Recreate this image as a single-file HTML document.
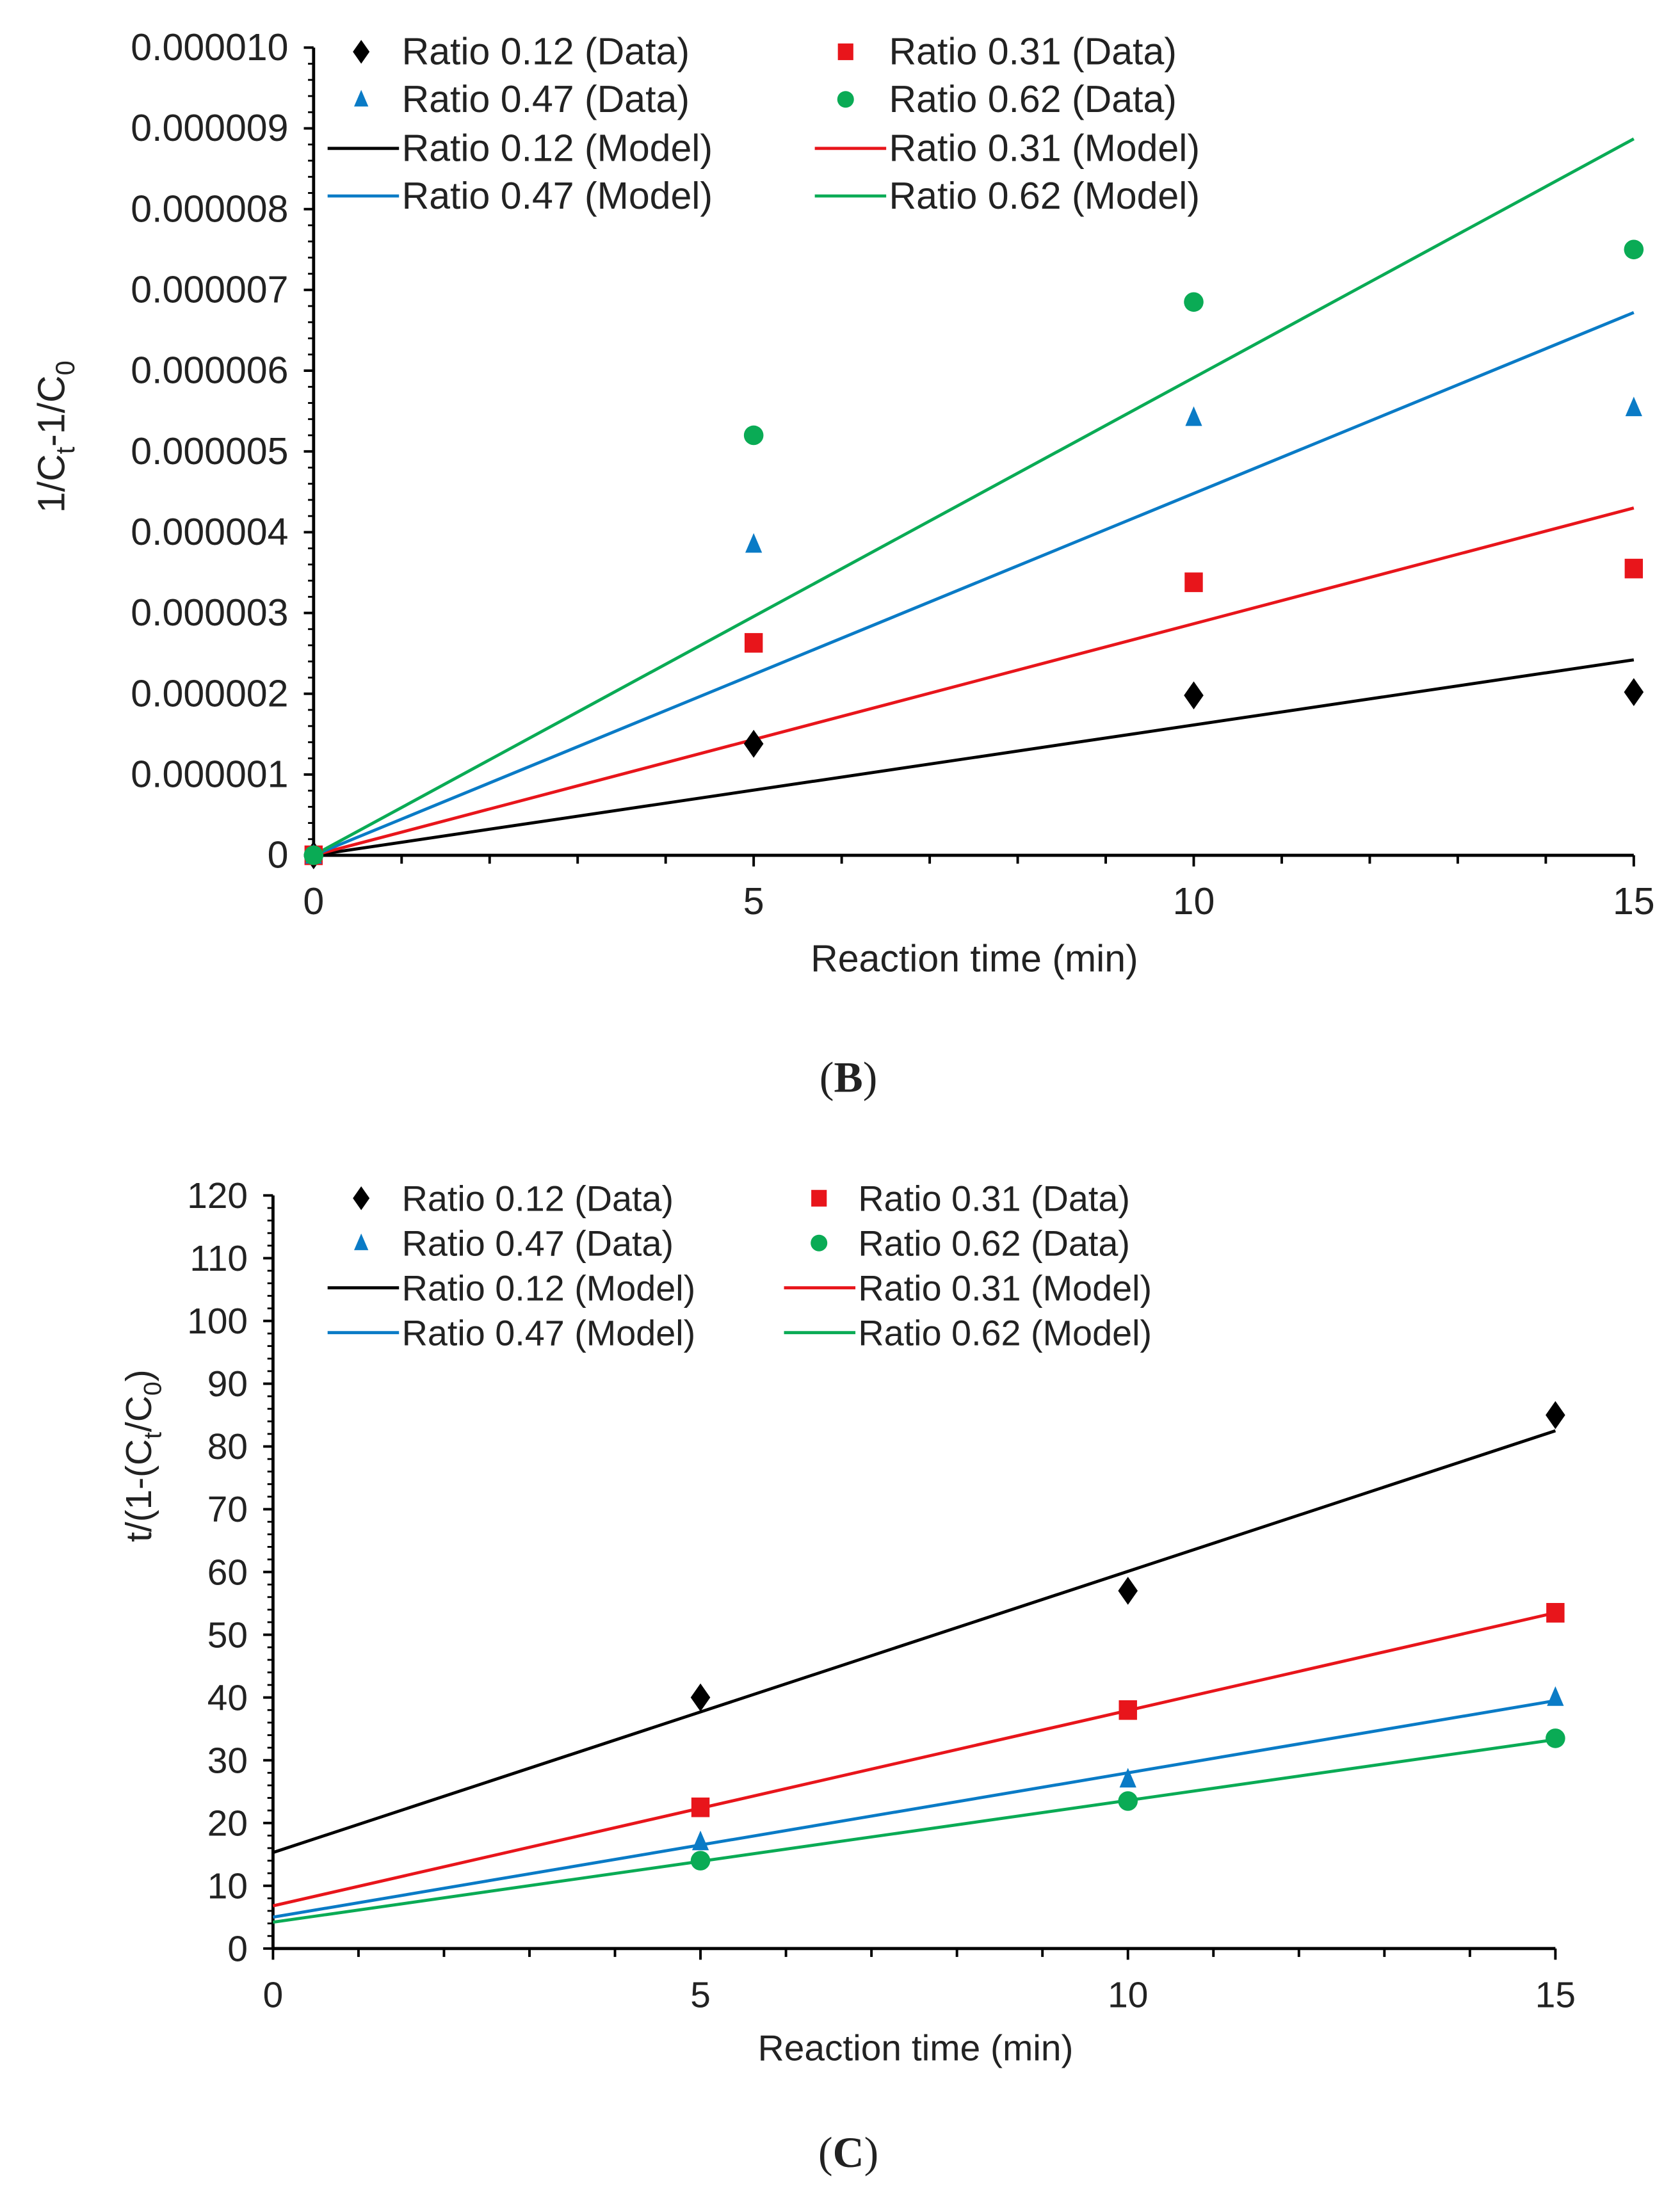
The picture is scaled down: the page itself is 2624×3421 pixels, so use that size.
<!DOCTYPE html>
<html><head><meta charset="utf-8">
<style>html,body{margin:0;padding:0;background:#fff}svg{display:block}text{font-family:"Liberation Sans",sans-serif;fill:#222}</style>
</head><body>
<svg id="fig" width="2624" height="3421" viewBox="0 0 1200 1564.5" xmlns="http://www.w3.org/2000/svg"></svg>
<script>
const ratios = ["0.12","0.31","0.47","0.62"];
const colors = ["#000000","#e8151b","#0a7bc6","#0aab55"];
const shapes = ["diamond","square","triangle","circle"];
// Chart B (units 1e-6)
const bTimes = [0,5,10,15];
const bData012 = [0,1.38,1.98,2.02];
const bData031 = [0,2.63,3.38,3.55];
const bData047 = [0,3.85,5.42,5.54];
const bData062 = [0,5.2,6.85,7.5];
const bModelStart = [0,0,0,0];
const bModelEnd = [2.42,4.3,6.72,8.87];
const bYTicks = ["0","0.000001","0.000002","0.000003","0.000004","0.000005","0.000006","0.000007","0.000008","0.000009","0.000010"];
const xTicks = ["0","5","10","15"];
// Chart C
const cTimes = [5,10,15];
const cData012 = [40,57,85];
const cData031 = [22.5,38,53.5];
const cData047 = [17,27,40];
const cData062 = [14,23.5,33.5];
const cModelStart = [15.3,6.8,5.0,4.2];
const cModelEnd = [82.5,53.5,39.5,33.3];
const cYTicks = ["0","10","20","30","40","50","60","70","80","90","100","110","120"];

const svg = document.getElementById('fig');
const NS = "http://www.w3.org/2000/svg";
function mk(tag, attrs, parent){const e=document.createElementNS(NS,tag);for(const k in attrs)e.setAttribute(k,attrs[k]);(parent||svg).appendChild(e);return e;}
function marker(shape,x,y,c,g,s){
  s=s||1;let e;
  if(shape==="diamond") e=mk('polygon',{points:`${x},${y-10*s} ${x+7*s},${y} ${x},${y+10*s} ${x-7*s},${y}`,fill:c},g);
  else if(shape==="square") e=mk('rect',{x:x-6.5*s,y:y-7*s,width:13*s,height:14*s,fill:c},g);
  else if(shape==="triangle") e=mk('polygon',{points:`${x},${y-8*s} ${x+6*s},${y+6*s} ${x-6*s},${y+6*s}`,fill:c},g);
  else e=mk('circle',{cx:x,cy:y,r:7*s,fill:c},g);
  return e;
}
function chart(o){
  const g=mk('g',{});
  
  
  const X=v=>o.x0+(o.x1-o.x0)*v/15;
  const Y=v=>o.y0-(o.y0-o.y1)*v/o.ymax;
  const fs=o.fs;
  let a=mk('line',{x1:o.x0,y1:o.y1,x2:o.x0,y2:o.y0,stroke:'#000','stroke-width':2.2},g);
  
  a=mk('line',{x1:o.x0,y1:o.y0,x2:o.x1,y2:o.y0,stroke:'#000','stroke-width':2.2},g);
  
  for(let i=0;i<o.yticks.length;i++){
    const v=i*o.ystep,y=Y(v);
    mk('line',{x1:o.x0-7,y1:y,x2:o.x0,y2:y,stroke:'#000','stroke-width':1.8},g);
    if(i<o.yticks.length-1) for(let k=1;k<o.minor;k++){const ym=Y(v+o.ystep*k/o.minor);mk('line',{x1:o.x0-4,y1:ym,x2:o.x0,y2:ym,stroke:'#000','stroke-width':1.3},g);}
    const t=mk('text',{x:o.x0-18,y:y+9,'text-anchor':'end','font-size':o.yfs},g);t.textContent=o.yticks[i];
    
  }
  for(let v=0;v<=15;v++){mk('line',{x1:X(v),y1:o.y0,x2:X(v),y2:o.y0+(v%5===0?8:6),stroke:'#000','stroke-width':1.8},g);}
  xTicks.forEach(s=>{const t=mk('text',{x:X(+s),y:o.y0+42,'text-anchor':'middle','font-size':fs},g);t.textContent=s;
    });
  let t=mk('text',{x:o.xtx,y:o.xty,'text-anchor':'middle','font-size':fs},g);t.textContent='Reaction time (min)';
  
  t=mk('text',{x:0,y:0,'text-anchor':'middle','font-size':fs,transform:`translate(${o.ytx},${o.yty}) rotate(-90)`},g);
  t.innerHTML=o.ytitle;
  
  for(let i=0;i<4;i++){
    const l=mk('line',{x1:X(0),y1:Y(o.ms[i]),x2:X(15),y2:Y(o.me[i]),stroke:colors[i],'stroke-width':2.2},g);
    
  }
  for(let i=0;i<4;i++){
    o.data[i].forEach((v,j)=>{const m=marker(shapes[i],X(o.times[j]),Y(v),colors[i],g,1);
      });
  }
  const lg=mk('g',{},g);
  
  [0,1,2,3].forEach(i=>{
    const col=i%2,row=Math.floor(i/2);
    const mx=o.lgx[col],tx=o.lgt[col],y=o.lgy[row];
    const m=marker(shapes[i],mx,y,colors[i],lg,0.85);
    
    const tt=mk('text',{x:tx,y:y+9,'font-size':o.lfs},lg);tt.textContent='Ratio '+ratios[i]+' (Data)';
    
    const y2=o.lgy[row+2];
    const ln=mk('line',{x1:tx-53,y1:y2,x2:tx-2,y2:y2,stroke:colors[i],'stroke-width':2.2},lg);
    
    const t2=mk('text',{x:tx,y:y2+9,'font-size':o.lfs},lg);t2.textContent='Ratio '+ratios[i]+' (Model)';
    
  });
  t=mk('text',{x:606,y:o.capy,'text-anchor':'middle','font-size':31,style:'font-family:"Liberation Serif",serif'},g);
  t.innerHTML='(<tspan font-weight="bold">'+o.cap+'</tspan>)';
  
}
chart({name:'chart-b',x0:224,x1:1167,y0:611,y1:34,ymax:10,ystep:1,minor:5,yticks:bYTicks,times:bTimes,
  data:[bData012,bData031,bData047,bData062],ms:bModelStart,me:bModelEnd,fs:27,yfs:27,lfs:27,
  xtx:696,xty:694,ytx:46,yty:312,ytitle:'1/C<tspan font-size="19" dy="7">t</tspan><tspan dy="-7">-1/C</tspan><tspan font-size="19" dy="7">0</tspan>',
  lgx:[258,604],lgt:[287,635],lgy:[37,71,106,140],capy:780,cap:'B'});
chart({name:'chart-c',x0:195,x1:1111,y0:1392,y1:854,ymax:120,ystep:10,minor:5,yticks:cYTicks,times:cTimes,
  data:[cData012,cData031,cData047,cData062],ms:cModelStart,me:cModelEnd,fs:26,yfs:26,lfs:25.5,
  xtx:654,xty:1472,ytx:108,yty:1040,ytitle:'t/(1-(C<tspan font-size="18" dy="7">t</tspan><tspan dy="-7">/C</tspan><tspan font-size="18" dy="7">0</tspan><tspan dy="-7">)</tspan>',
  lgx:[258,585],lgt:[287,613],lgy:[856,888,920,952],capy:1548,cap:'C'});
</script>
</body></html>
